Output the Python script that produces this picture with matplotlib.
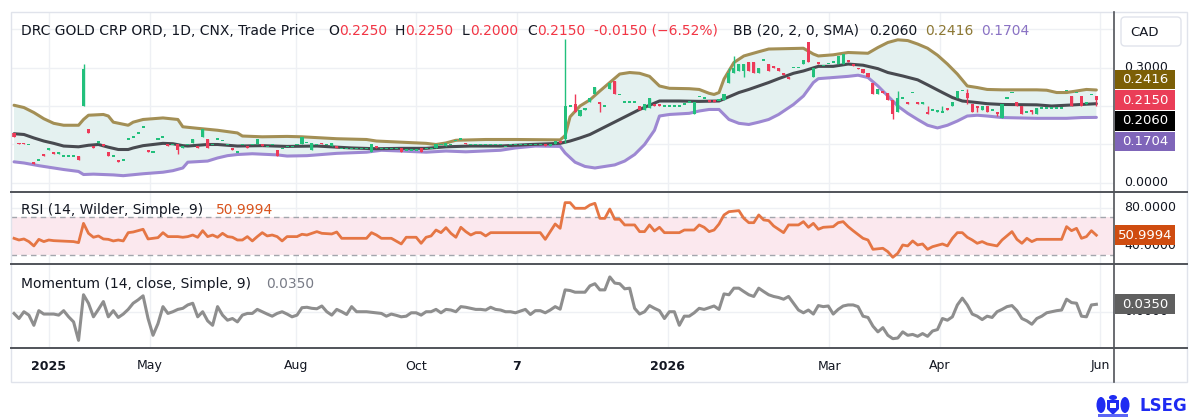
import numpy as np
import matplotlib
matplotlib.use("Agg")
import matplotlib.pyplot as plt
from matplotlib.patches import Rectangle, FancyBboxPatch, Polygon, Ellipse

plt.rcParams['font.family'] = ['DejaVu Sans']

# ---------------- data ----------------
# one row per traded bar: (open, high, low, close); a single number = flat bar
candles = [
    # 0-9
    (.130, .130, .120, .120), (.105, .105, .100, .100), (.105, .105, .100, .100), .100,
    (.055, .055, .050, .050), .060, (.075, .075, .070, .070), (.085, .090, .085, .090),
    (.080, .080, .075, .075), (.075, .080, .075, .080),
    # 10-19
    .070, .070, .070, (.070, .070, .060, .060), (.200, .310, .200, .295),
    (.140, .140, .130, .130), (.095, .095, .090, .090), (.105, .110, .105, .110),
    (.100, .100, .095, .095), (.080, .080, .070, .070),
    # 20-29
    .070, (.060, .060, .055, .055), .060, .115, .120, .130, .145,
    (.085, .085, .080, .080), .080, .115,
    # 30-39
    .120, (.100, .100, .095, .095), .100, (.100, .100, .075, .085), (.090, .095, .090, .095),
    .100, (.105, .115, .105, .115), (.095, .095, .090, .090), (.120, .140, .120, .140),
    (.115, .115, .090, .090),
    # 40-49
    .100, .115, .110, .100, (.090, .090, .085, .085), .080, .100, (.095, .095, .090, .090),
    .100, (.100, .115, .100, .115),
    # 50-59
    (.100, .100, .095, .095), .095, .100, (.085, .085, .070, .070), .090, .095, .095, .100,
    (.100, .120, .100, .120), .105,
    # 60-69
    (.085, .105, .085, .105), .100, (.105, .105, .100, .100), .100, (.095, .105, .095, .105),
    (.095, .095, .090, .090), .090, .090, .090, .090,
    # 70-79
    .090, .090, (.080, .100, .080, .100), (.095, .095, .090, .090), .090, .090, .090, .090,
    (.090, .090, .080, .080), .085,
    # 80-89
    .085, .085, (.090, .090, .080, .080), .090, .090, (.090, .100, .090, .100), .100,
    (.095, .105, .095, .105), .100, .110,
    # 90-99
    .115, (.105, .105, .100, .100), .100, .100, .100, .100, .100, .100, .100, .095,
    # 100-109
    .100, .100, .100, .100, .100, .100, .100, (.100, .100, .095, .095),
    (.095, .100, .095, .100), (.100, .110, .100, .110),
    # 110-119
    (.110, .110, .105, .105), (.115, .375, .105, .200), .200, (.205, .230, .185, .185),
    (.175, .190, .175, .190), (.190, .195, .190, .195), (.210, .220, .210, .220),
    (.230, .250, .230, .250), (.210, .210, .185, .205), .200,
    # 120-129
    (.245, .260, .245, .260), (.265, .265, .230, .230), .230, .210, .210, .210,
    (.200, .200, .190, .190), (.190, .205, .190, .205), (.195, .220, .195, .220),
    (.205, .205, .200, .200),
    # 130-139
    (.205, .205, .200, .200), .200, .200, .200, .200, .205, .210, (.180, .210, .180, .210),
    .225, .220,
    # 140-149
    (.215, .215, .210, .210), (.215, .215, .210, .210), .215, (.215, .230, .215, .230),
    (.260, .300, .260, .285), (.285, .330, .285, .300), (.290, .310, .290, .310),
    (.290, .310, .275, .310), (.315, .315, .290, .290), (.315, .315, .285, .285),
    # 150-159
    (.285, .300, .285, .300), .320, (.310, .310, .290, .290), (.305, .305, .300, .300),
    (.300, .300, .290, .290), (.285, .285, .280, .280), (.275, .275, .270, .270), .300, .300,
    (.310, .320, .310, .320),
    # 160-169
    (.365, .365, .315, .315), (.275, .300, .275, .300), (.315, .315, .310, .310), .305, .310,
    .315, (.310, .330, .310, .330), (.310, .335, .310, .335), (.320, .320, .315, .315),
    (.310, .310, .305, .305),
    # 170-179
    (.300, .300, .295, .295), (.295, .295, .285, .285), (.285, .285, .275, .275),
    (.260, .260, .230, .230), (.230, .245, .230, .245), (.240, .240, .235, .235),
    (.235, .235, .215, .215), (.215, .215, .165, .180), (.185, .240, .185, .220), .220,
    # 180-189
    (.210, .210, .205, .205), .235, (.210, .210, .205, .205), (.205, .210, .205, .210),
    (.185, .200, .180, .180), .190, (.185, .190, .185, .190), (.185, .200, .185, .185),
    (.195, .195, .190, .190), (.200, .210, .200, .210),
    # 190-199
    (.220, .240, .220, .240), .240, (.235, .245, .205, .220), (.205, .205, .185, .185),
    (.200, .200, .185, .195), (.190, .200, .190, .200), (.200, .200, .185, .185), .190,
    (.185, .185, .175, .180), (.170, .205, .170, .205),
    # 200-209
    .220, .235, (.210, .210, .200, .200), (.200, .200, .180, .180), .185,
    (.190, .190, .180, .185), (.180, .195, .180, .195), .195, .195, .195,
    # 210-218
    .195, .195, .240, (.225, .225, .200, .200), .235, (.225, .225, .200, .200),
    (.205, .210, .205, .210), .230, (.225, .225, .200, .215),
]

# Bollinger bands: (bar, value)
upper_band = [
    (0, .202), (2, .196), (4, .183), (6, .167), (8, .155), (10, .150), (13, .150), (14, .165),
    (15, .176), (18, .178), (19, .174), (20, .158), (23, .150), (24, .158), (26, .165), (30, .169),
    (33, .165), (34, .146), (37, .142), (41, .137), (45, .130), (46, .122), (50, .120), (55, .121),
    (58, .120), (65, .115), (71, .113), (73, .109), (78, .106), (83, .103), (85, .100), (87, .104),
    (89, .111), (95, .113), (101, .113), (110, .112), (111, .123), (112, .172), (114, .200),
    (116, .216), (118, .239), (120, .261), (122, .283), (124, .287), (126, .285), (128, .277),
    (130, .252), (132, .246), (136, .245), (138, .243), (140, .233), (141, .230), (142, .235),
    (143, .270), (145, .313), (147, .330), (150, .341), (152, .348), (159, .350), (161, .335),
    (162, .330), (165, .333), (168, .339), (172, .337), (174, .352), (176, .365), (178, .372),
    (180, .370), (182, .361), (184, .350), (186, .332), (188, .309), (190, .283), (192, .252),
    (194, .248), (196, .243), (199, .242), (206, .242), (208, .241), (210, .235), (212, .235),
    (214, .239), (216, .243), (218, .2416),
]
middle_band = [
    (0, .128), (2, .126), (4, .117), (6, .109), (8, .103), (10, .096), (13, .094), (15, .098),
    (17, .100), (19, .093), (21, .087), (23, .087), (24, .091), (26, .097), (28, .100), (30, .103),
    (32, .102), (34, .097), (35, .096), (39, .100), (41, .100), (45, .096), (50, .097), (55, .095),
    (61, .096), (68, .091), (73, .089), (78, .090), (83, .090), (87, .094), (92, .096), (98, .096),
    (104, .100), (110, .103), (112, .109), (114, .117), (116, .126), (118, .139), (120, .152),
    (122, .165), (124, .178), (126, .191), (128, .202), (130, .213), (134, .213), (138, .212),
    (142, .213), (144, .224), (146, .235), (148, .243), (150, .252), (152, .261), (154, .271),
    (157, .285), (159, .291), (162, .303), (165, .303), (168, .309), (171, .306), (174, .297),
    (176, .287), (179, .278), (182, .268), (184, .255), (187, .235), (189, .222), (191, .213),
    (194, .209), (196, .206), (199, .204), (206, .203), (209, .200), (212, .202), (215, .204),
    (218, .2060),
]
lower_band = [
    (0, .055), (2, .052), (5, .045), (8, .039), (10, .035), (13, .030), (14, .022), (16, .023),
    (20, .021), (22, .019), (26, .024), (30, .028), (32, .032), (34, .039), (35, .054), (39, .057),
    (41, .065), (43, .071), (45, .074), (48, .076), (53, .073), (55, .070), (59, .071), (65, .077),
    (71, .080), (74, .085), (78, .083), (83, .080), (87, .083), (91, .081), (98, .085), (101, .091),
    (105, .096), (110, .095), (111, .078), (113, .054), (115, .043), (117, .039), (119, .043),
    (121, .047), (123, .057), (125, .074), (127, .100), (129, .137), (130, .174), (132, .178),
    (136, .181), (138, .187), (140, .191), (142, .191), (143, .178), (144, .165), (146, .155),
    (148, .152), (150, .158), (152, .165), (154, .178), (157, .204), (159, .226), (161, .261),
    (162, .271), (165, .274), (168, .277), (170, .280), (172, .274), (174, .252), (176, .226),
    (178, .200), (180, .181), (182, .165), (184, .150), (186, .143), (188, .150), (190, .161),
    (192, .174), (194, .176), (196, .174), (199, .170), (206, .168), (212, .168), (215, .170),
    (218, .1704),
]

rsi_line = [
    (0, 47.7), (1, 45.9), (2, 47.0), (3, 44.2), (4, 39.6), (5, 46.6), (6, 44.2), (7, 45.9),
    (8, 45.2), (12, 44.2), (13, 43.1), (14, 63.6), (15, 53.0), (16, 48.8), (17, 50.2), (18, 47.0),
    (19, 46.6), (20, 44.9), (21, 45.9), (22, 44.9), (23, 53.7), (24, 54.4), (26, 57.3), (27, 47.0),
    (29, 48.4), (30, 53.7), (31, 49.5), (33, 49.5), (34, 48.8), (35, 49.5), (36, 51.2), (37, 48.8),
    (38, 55.8), (39, 49.5), (40, 51.2), (41, 48.8), (42, 53.0), (43, 49.5), (44, 48.8), (45, 45.9),
    (46, 45.9), (47, 49.5), (48, 44.9), (49, 49.5), (50, 53.7), (51, 50.2), (52, 51.2), (53, 49.5),
    (54, 44.9), (55, 49.5), (57, 49.5), (58, 52.0), (59, 51.2), (60, 53.0), (61, 54.8), (62, 53.0),
    (64, 52.3), (65, 54.4), (66, 47.7), (71, 47.7), (72, 53.7), (73, 51.2), (74, 47.7), (76, 47.7),
    (78, 41.7), (79, 48.8), (81, 48.8), (82, 42.4), (83, 48.8), (84, 50.2), (85, 56.5), (86, 53.7),
    (87, 59.0), (88, 53.0), (89, 48.8), (90, 59.4), (91, 54.8), (92, 51.2), (93, 53.7), (94, 53.7),
    (95, 50.2), (96, 53.7), (106, 53.7), (107, 46.6), (109, 62.9), (110, 58.3), (111, 85.6),
    (112, 85.6), (113, 79.6), (115, 79.6), (116, 83.1), (117, 84.9), (118, 68.9), (119, 68.9),
    (120, 78.8), (121, 67.9), (122, 67.9), (123, 61.9), (125, 61.9), (126, 54.8), (127, 54.8),
    (128, 61.9), (129, 55.5), (130, 59.4), (131, 53.7), (134, 53.7), (135, 56.5), (137, 56.5),
    (138, 61.9), (139, 59.4), (140, 54.8), (141, 56.5), (142, 62.9), (143, 72.5), (144, 76.0),
    (146, 77.1), (147, 68.9), (148, 64.3), (149, 64.3), (150, 72.5), (151, 67.2), (152, 66.5),
    (153, 60.8), (154, 57.3), (155, 53.7), (156, 61.9), (158, 61.9), (159, 65.4), (160, 59.4),
    (161, 63.6), (162, 57.3), (163, 59.4), (165, 60.1), (166, 64.3), (167, 65.4), (168, 60.1),
    (169, 55.8), (171, 47.7), (172, 45.9), (173, 36.0), (175, 37.1), (176, 33.5), (177, 27.5),
    (178, 31.8), (179, 40.6), (180, 39.6), (181, 44.9), (182, 40.6), (183, 41.7), (184, 36.0),
    (185, 38.8), (187, 41.7), (188, 39.6), (189, 47.7), (190, 53.7), (191, 53.7), (192, 48.8),
    (193, 45.9), (194, 42.4), (195, 44.2), (196, 41.7), (198, 39.6), (199, 45.9), (201, 54.8),
    (202, 46.6), (203, 42.4), (204, 47.7), (205, 44.2), (206, 46.6), (211, 46.6), (212, 60.1),
    (213, 55.8), (214, 58.3), (215, 47.7), (216, 49.5), (217, 55.8), (218, 50.9994),
]

momentum_line = [
    (0, -.008), (1, -.032), (2, .000), (3, -.016), (4, -.064), (5, .005), (6, -.011), (8, -.011),
    (9, -.016), (10, .005), (11, -.024), (12, -.048), (13, -.135), (14, .080), (15, .040),
    (16, -.024), (17, .011), (18, .048), (19, -.024), (20, .005), (21, -.027), (22, -.011),
    (23, .011), (24, .040), (25, .056), (26, .075), (27, -.032), (28, -.111), (29, -.056),
    (30, .024), (31, -.008), (32, .000), (33, .011), (34, .016), (35, .032), (36, .040),
    (37, -.024), (38, .000), (39, -.043), (40, -.064), (41, .024), (42, -.016), (43, -.040),
    (44, -.032), (45, -.048), (46, -.016), (47, -.008), (48, -.008), (49, .011), (50, .000),
    (51, -.011), (52, -.021), (53, -.008), (54, .000), (55, -.011), (56, -.024), (57, -.016),
    (58, .019), (59, .021), (60, .016), (61, .014), (62, .027), (63, .000), (64, -.016),
    (65, .011), (66, .000), (67, -.013), (68, .024), (69, .000), (71, .000), (73, -.005),
    (74, -.008), (75, -.021), (76, -.011), (77, -.017), (78, -.024), (79, -.021), (80, -.005),
    (81, -.005), (82, -.016), (83, .000), (84, .000), (85, .011), (86, -.005), (87, .011),
    (88, .008), (89, .000), (90, .024), (91, .021), (92, .016), (93, .011), (94, .011),
    (95, .008), (96, .021), (97, .011), (98, .008), (99, .000), (100, .000), (101, -.005),
    (102, .003), (103, .011), (104, -.013), (105, .005), (106, .005), (107, -.005), (108, .008),
    (109, .024), (110, .012), (111, .103), (112, .100), (113, .092), (115, .092), (116, .122),
    (117, .132), (118, .103), (119, .103), (120, .164), (121, .135), (122, .132), (123, .108),
    (124, .111), (125, .016), (126, -.011), (127, .000), (128, .029), (129, .016), (130, .005),
    (131, -.032), (132, .000), (133, .000), (134, -.064), (135, -.021), (136, -.021),
    (137, -.005), (138, .016), (139, .011), (140, .019), (141, .027), (142, .011), (143, .084),
    (144, .080), (145, .111), (146, .111), (147, .095), (148, .080), (149, .072), (150, .111),
    (151, .095), (152, .080), (153, .072), (154, .067), (155, .059), (156, .072), (157, .040),
    (158, .008), (159, -.005), (160, .008), (161, -.011), (162, .029), (163, .024), (164, .027),
    (165, -.011), (166, .011), (167, .027), (168, .032), (169, .032), (170, .024), (171, -.021),
    (172, -.027), (173, -.068), (174, -.095), (175, -.075), (176, -.111), (177, -.127),
    (178, -.124), (179, -.095), (180, -.111), (181, -.107), (182, -.116), (183, -.103),
    (184, -.116), (185, -.091), (186, -.084), (187, -.032), (188, -.040), (189, -.024),
    (190, .032), (191, .064), (192, .032), (193, -.011), (194, -.021), (195, -.037), (196, -.021),
    (197, -.027), (198, .000), (199, .011), (200, .024), (201, .029), (202, .005), (203, -.032),
    (204, -.043), (205, -.059), (206, -.032), (207, -.021), (208, -.005), (209, .000),
    (210, .005), (211, .008), (212, .059), (213, .043), (214, .040), (215, -.021), (216, -.024),
    (217, .032), (218, .035),
]

tick_pos = [7.0, 27.4, 56.8, 81.0, 101.3, 131.7, 164.2, 186.5, 218.7]
tick_labels = ['2025', 'May', 'Aug', 'Oct', '7', '2026', 'Mar', 'Apr', 'Jun']
tick_bold = [True, False, False, False, True, True, False, False, False]

last_open, last_high, last_low, last_close = 0.2250, 0.2250, 0.2000, 0.2150
change, change_pct = -0.0150, -6.52
bb_basis, bb_upper, bb_lower = 0.2060, 0.2416, 0.1704
rsi_last = 50.9994
mom_last = 0.0350
price_ticks = [0.0, 0.3]
price_grid = [0.0, 0.1, 0.2, 0.3, 0.4]
rsi_ticks = [80, 40]
mom_ticks = [0.0]

# ---------------- styles ----------------
GREEN = '#22c07c'
RED = '#ee3a59'
UPPER_C = '#a38f55'
MID_C = '#484a50'
LOWER_C = '#9d88d2'
FILL_C = '#e4f1f0'
RSI_C = '#e57644'
MOM_C = '#8e8e8e'
TXT = '#131722'
GRID = '#eef0f4'
SEP = '#505359'

W, H = 1200, 420
fig = plt.figure(figsize=(12, 4.2), dpi=100)
fig.patch.set_facecolor('white')

LEFT, RIGHT = 11, 1114
X0, DX = 14.0, 4.965      # pixel of bar 0 and bar spacing (layout)
xlim = ((LEFT - X0) / DX, (RIGHT - X0) / DX)

def add_pane(top, bottom):
    a = fig.add_axes([LEFT / W, 1 - bottom / H, (RIGHT - LEFT) / W, (bottom - top) / H])
    a.set_xlim(*xlim)
    for s in a.spines.values():
        s.set_visible(False)
    a.set_xticks([]); a.set_yticks([])
    a.patch.set_alpha(0)
    return a

P_TOP, P_BOT = 12, 192
R_TOP, R_BOT = 192, 264
M_TOP, M_BOT = 264, 348
ax = add_pane(P_TOP, P_BOT)
ax_r = add_pane(R_TOP, R_BOT)
ax_m = add_pane(M_TOP, M_BOT)

p_lim = (-0.0234, 0.4442)
r_lim = (20.4, 96.9)
m_lim = (-0.171, 0.225)
ax.set_ylim(*p_lim); ax_r.set_ylim(*r_lim); ax_m.set_ylim(*m_lim)

for a in (ax, ax_r, ax_m):
    for t in tick_pos:
        a.axvline(t, color=GRID, lw=1, zorder=0)
for g in price_grid:
    ax.axhline(g, color=GRID, lw=1, zorder=0)
for g in rsi_ticks:
    ax_r.axhline(g, color=GRID, lw=1, zorder=0)
for g in mom_ticks:
    ax_m.axhline(g, color=GRID, lw=1, zorder=0)

# --- Bollinger bands ---
ux, uv = map(np.array, zip(*upper_band))
mx, mv = map(np.array, zip(*middle_band))
lx, lv = map(np.array, zip(*lower_band))
ax.fill(np.r_[ux, lx[::-1]], np.r_[uv, lv[::-1]], color=FILL_C, lw=0, zorder=1)
ax.plot(ux, uv, color=UPPER_C, lw=2.2, zorder=2, solid_capstyle='round')
ax.plot(lx, lv, color=LOWER_C, lw=2.2, zorder=2, solid_capstyle='round')
ax.plot(mx, mv, color=MID_C, lw=2.2, zorder=2, solid_capstyle='round')

# --- candles ---
rows = [r if isinstance(r, tuple) else (r, r, r, r) for r in candles]
o, h, l, c = map(np.array, zip(*rows))
idx = np.arange(len(rows))
cols = np.where(c >= o, GREEN, RED)
ax.vlines(idx, l, h, colors=cols, lw=1.0, zorder=3)
body = np.maximum(np.abs(c - o), 0.0042)
ax.bar(idx, body, bottom=np.minimum(o, c) - np.where(np.abs(c - o) < 0.0042, 0.0021, 0),
       width=0.62, color=cols, lw=0, zorder=4)

# --- RSI ---
ax_r.axhspan(30, 70, color='#fbe8ee', lw=0, zorder=0.5)
for lvl in (70, 30):
    ax_r.axhline(lvl, color='#a3a6ad', lw=1, ls=(0, (4, 3)), zorder=1)
rx, rv = map(np.array, zip(*rsi_line))
ax_r.plot(rx, rv, color=RSI_C, lw=2.0, zorder=3)

# --- Momentum ---
mox, mov = map(np.array, zip(*momentum_line))
ax_m.plot(mox, mov, color=MOM_C, lw=2.2, zorder=3)

# ---------------- overlay (pixel coordinates) ----------------
ov = fig.add_axes([0, 0, 1, 1], zorder=10)
ov.set_xlim(0, W); ov.set_ylim(H, 0); ov.axis('off')

def y_of(v, lim, top, bot):
    return bot - (v - lim[0]) / (lim[1] - lim[0]) * (bot - top)

# frame
ov.add_patch(Rectangle((LEFT, 12), 1187 - LEFT, 382 - 12, fill=False, ec='#e0e3eb', lw=1))
for yy in (P_BOT, R_BOT, M_BOT):
    ov.plot([LEFT, 1187], [yy, yy], color=SEP, lw=1.4)
ov.plot([RIGHT, RIGHT], [12, 382], color=SEP, lw=1.2)

# x tick labels
for t, lab, b in zip(tick_pos, tick_labels, tick_bold):
    xp = X0 + t * DX
    ha = 'center'
    if xp + 12 > RIGHT:
        xp, ha = RIGHT - 1, 'right'
    ov.text(xp, 366, lab, ha=ha, va='center', fontsize=9, color=TXT,
            fontweight='bold' if b else 'normal')

# right axis labels
AXL = 1124
for v in price_ticks:
    ov.text(AXL, y_of(v, p_lim, P_TOP, P_BOT), f'{v:.4f}', fontsize=9, color=TXT, va='center')
for v in rsi_ticks:
    ov.text(AXL, y_of(v, r_lim, R_TOP, R_BOT), f'{v:.4f}', fontsize=9, color=TXT, va='center')
for v in mom_ticks:
    ov.text(AXL, y_of(v, m_lim, M_TOP, M_BOT), f'{v:.4f}', fontsize=9, color=TXT, va='center')

# CAD box
ov.add_patch(FancyBboxPatch((1121, 17), 60, 29, boxstyle='round,pad=0,rounding_size=4',
                            fc='white', ec='#e0e3eb', lw=1))
ov.text(1130, 32, 'CAD', fontsize=9.5, color=TXT, va='center')

# badges
BH = 20.7
def badge(yc, text, color):
    ov.add_patch(Rectangle((1115, yc - BH / 2 + 0.5), 60, BH - 1, fc=color, ec='none', zorder=5))
    ov.text(1145, yc, text, ha='center', va='center', fontsize=9.5, color='white', zorder=6)

items = [(last_close, '#ea3d57'), (bb_upper, '#7c5f06'), (bb_basis, '#000000'), (bb_lower, '#7f65b9')]
anchor = y_of(last_close, p_lim, P_TOP, P_BOT)
ys = {v: y_of(v, p_lim, P_TOP, P_BOT) for v, _ in items}
placed = {last_close: anchor}
prev = anchor
for v in sorted([v for v, _ in items if v < last_close], reverse=True):
    prev = max(ys[v], prev + BH); placed[v] = prev
prev = anchor
for v in sorted([v for v, _ in items if v > last_close]):
    prev = min(ys[v], prev - BH); placed[v] = prev
for v, col in items:
    badge(placed[v], f'{v:.4f}', col)
badge(y_of(rsi_last, r_lim, R_TOP, R_BOT), f'{rsi_last:.4f}', '#cf4c10')
badge(y_of(mom_last, m_lim, M_TOP, M_BOT), f'{mom_last:.4f}', '#5f5f5f')

# header texts
def chain(x, y, parts, fs=10):
    t = ov.text(x, y, parts[0][0], color=parts[0][1], fontsize=fs, va='center', ha='left')
    for s, col in parts[1:]:
        t = ov.annotate(s, xy=(1, 0), xycoords=t, va='bottom', ha='left', color=col,
                        fontsize=fs, annotation_clip=False)
    return t

HR = '#f23645'
chain(21, 31, [('DRC GOLD CRP ORD, 1D, CNX, Trade Price', TXT)])
chain(328, 31, [('O', TXT), (f'{last_open:.4f}', HR)])
chain(395, 31, [('H', TXT), (f'{last_high:.4f}', HR)])
chain(462, 31, [('L', TXT), (f'{last_low:.4f}', HR)])
chain(527, 31, [('C', TXT), (f'{last_close:.4f}', HR)])
chain(594, 31, [(f'{change:.4f} (\u2212{abs(change_pct):.2f}%)', HR)])
chain(733, 31, [('BB (20, 2, 0, SMA)', TXT)])
chain(869, 31, [(f'{bb_basis:.4f}', TXT)])
chain(925, 31, [(f'{bb_upper:.4f}', '#8c7733')])
chain(981, 31, [(f'{bb_lower:.4f}', '#8a72c4')])
chain(21, 210, [('RSI (14, Wilder, Simple, 9)', TXT)])
chain(216, 210, [(f'{rsi_last:.4f}', '#d9541e')])
chain(21, 284, [('Momentum (14, close, Simple, 9)', TXT)])
chain(266, 284, [(f'{mom_last:.4f}', '#787b86')])

# LSEG logo
LB = '#1f2bf2'
ov.text(1187, 406, 'LSEG', ha='right', va='center', fontsize=12, fontweight='bold', color=LB)
ov.add_patch(Ellipse((1101, 405), 9, 16, fc=LB, ec='none'))
ov.add_patch(Ellipse((1125, 405), 9, 16, fc=LB, ec='none'))
ov.add_patch(Polygon([(1107, 400), (1119, 400), (1119, 409), (1113, 415), (1107, 409)],
                     closed=True, fc=LB, ec='none'))
ov.add_patch(Ellipse((1113, 397.5), 8, 5, fc=LB, ec='none'))
ov.add_patch(Rectangle((1098, 414), 30, 3, fc='#5c66f5', ec='none'))
ov.add_patch(Rectangle((1110, 403), 6, 5, fc='white', ec='none'))

fig.savefig('out.png', dpi=100, facecolor='white')
